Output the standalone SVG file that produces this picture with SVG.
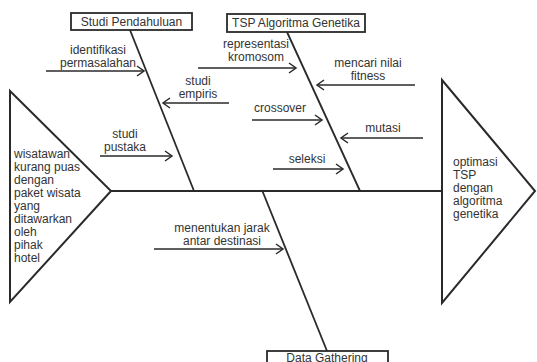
<svg xmlns="http://www.w3.org/2000/svg" width="537" height="362" viewBox="0 0 537 362">
<defs>
<marker id="ah" markerUnits="userSpaceOnUse" markerWidth="10" markerHeight="12" refX="8" refY="6" orient="auto">
<path d="M1,1 L8,6 L1,11" fill="none" stroke="#2a2a2a" stroke-width="1.5"/>
</marker>
<style>
text{font-family:"Liberation Sans",Arial,sans-serif;font-size:12px;fill:#333}
.c{text-anchor:middle}
.main{stroke:#2a2a2a;stroke-width:2;fill:none}
.bone{stroke:#2a2a2a;stroke-width:1.8;fill:none}
.arr{stroke:#2a2a2a;stroke-width:1.6;fill:none;marker-end:url(#ah)}
.box{fill:#fff;stroke:#2a2a2a;stroke-width:1.8}
</style>
</defs>
<rect width="537" height="362" fill="#fff"/>
<g id="connectors">
<line class="main" x1="111" y1="191" x2="442" y2="191"/>
<line class="bone" x1="130" y1="30" x2="194" y2="191"/>
<line class="bone" x1="287" y1="32" x2="360" y2="191"/>
<line class="bone" x1="262" y1="190" x2="327" y2="351"/>
<line class="arr" x1="46" y1="71" x2="144" y2="71"/>
<line class="arr" x1="229" y1="103" x2="163" y2="103"/>
<line class="arr" x1="100" y1="156" x2="172" y2="156"/>
<line class="arr" x1="198" y1="68" x2="296" y2="68"/>
<line class="arr" x1="415" y1="85" x2="317" y2="85"/>
<line class="arr" x1="252" y1="120" x2="322" y2="120"/>
<line class="arr" x1="423" y1="138" x2="341" y2="138"/>
<line class="arr" x1="273" y1="169" x2="343" y2="169"/>
<line class="arr" x1="154" y1="249" x2="283" y2="249"/>
</g>
<g id="problem">
<polygon class="main" points="10,91 111,191 10,302"/>
<text x="14" y="158">wisatawan</text>
<text x="14" y="171">kurang puas</text>
<text x="14" y="184">dengan</text>
<text x="14" y="197">paket wisata</text>
<text x="14" y="210">yang</text>
<text x="14" y="223">ditawarkan</text>
<text x="14" y="236">oleh</text>
<text x="14" y="249">pihak</text>
<text x="14" y="262">hotel</text>
</g>
<g id="goal">
<polygon class="main" points="442,80 535,191 442,303"/>
<text x="453" y="166">optimasi</text>
<text x="453" y="179">TSP</text>
<text x="453" y="192">dengan</text>
<text x="453" y="205">algoritma</text>
<text x="453" y="218">genetika</text>
</g>
<g id="studi-pendahuluan">
<rect class="box" x="71" y="13" width="121" height="17"/>
<text class="c" x="131.5" y="26">Studi Pendahuluan</text>
</g>
<g id="tsp-ga">
<rect class="box" x="227" y="14" width="138" height="18"/>
<text class="c" x="296" y="27">TSP Algoritma Genetika</text>
</g>
<g id="data-gathering">
<rect class="box" x="267" y="351" width="121" height="17"/>
<text class="c" x="327" y="362">Data Gathering</text>
</g>
<g id="labels">
<text class="c" x="98" y="54">identifikasi</text>
<text class="c" x="98" y="67">permasalahan</text>
<text class="c" x="198" y="85">studi</text>
<text class="c" x="198" y="98">empiris</text>
<text class="c" x="125" y="138">studi</text>
<text class="c" x="125" y="151">pustaka</text>
<text class="c" x="256" y="48">representasi</text>
<text class="c" x="256" y="61">kromosom</text>
<text class="c" x="368" y="67">mencari nilai</text>
<text class="c" x="368" y="80">fitness</text>
<text class="c" x="280" y="112">crossover</text>
<text class="c" x="383" y="132">mutasi</text>
<text class="c" x="307" y="163">seleksi</text>
<text class="c" x="222" y="232">menentukan jarak</text>
<text class="c" x="222" y="245">antar destinasi</text>
</g>
</svg>
